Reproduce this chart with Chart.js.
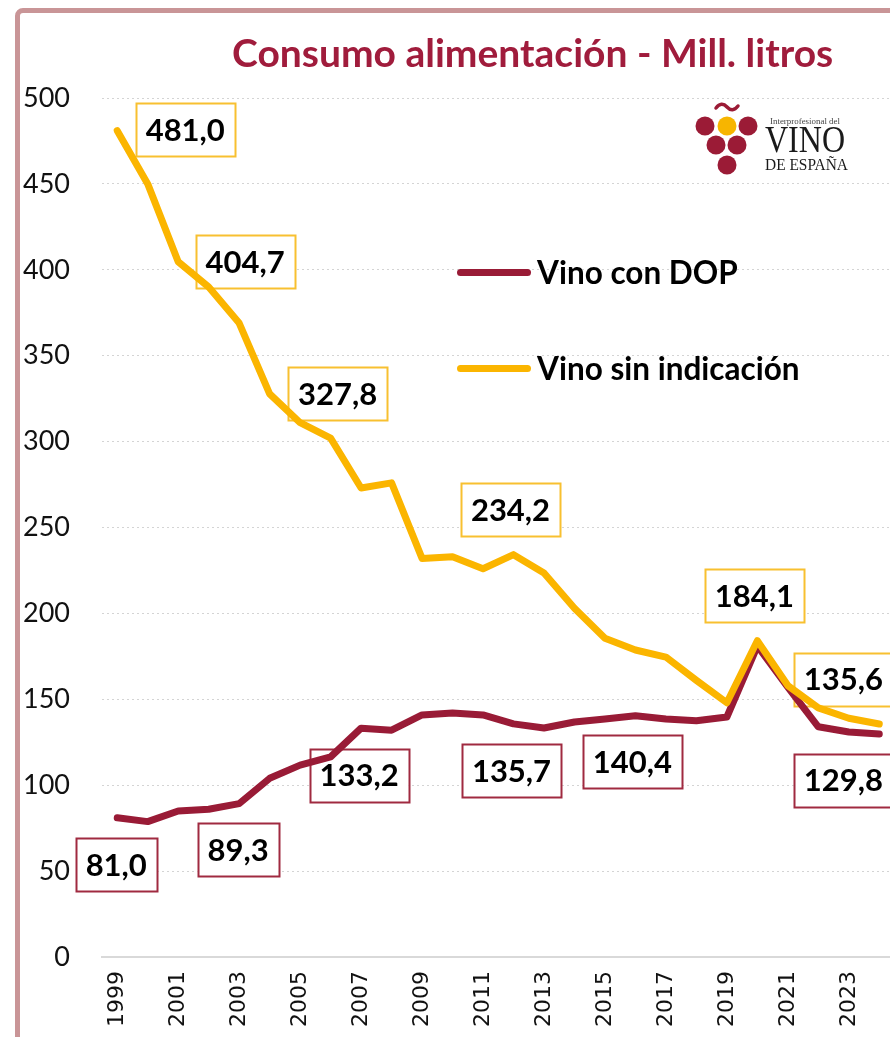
<!DOCTYPE html>
<html>
<head>
<meta charset="utf-8">
<script src="https://cdn.jsdelivr.net/npm/chart.js@4.4.1/dist/chart.umd.min.js"></script>
<style>
  html, body { margin: 0; padding: 0; background: #fff; width: 890px; height: 1037px; overflow: hidden; }
  #frame { position: absolute; left: 15px; top: 8px; width: 950px; height: 1100px; border: 5px solid #c99597; border-radius: 8px; box-sizing: border-box; }
  #wrap { position: absolute; left: 0; top: 0; width: 920px; height: 1037px; }
  #title { position: absolute; left: 232px; top: 28px; font: bold 39px Lato, sans-serif; color: #a01c3c; white-space: nowrap; line-height: 48px; }
  .leg { position: absolute; left: 457px; height: 40px; white-space: nowrap; }
  .leg i { position: absolute; left: 0; top: 17px; width: 74px; height: 7px; border-radius: 4px; }
  .leg span { position: absolute; left: 80px; top: 0; font: bold 31.5px Lato, sans-serif; color: #000; line-height: 40px; }
  #logo { position: absolute; left: 690px; top: 96px; }
</style>
</head>
<body>
<div id="frame"></div>
<div id="wrap"><canvas id="chart" width="920" height="1037"></canvas></div>
<div id="title">Consumo alimentación - Mill. litros</div>
<div class="leg" style="top:252px"><i style="background:#991b36"></i><span>Vino con DOP</span></div>
<div class="leg" style="top:348px"><i style="background:#fbb500"></i><span>Vino sin indicación</span></div>
<svg id="logo" width="170" height="90" viewBox="690 96 170 90">
  <path d="M716 108 q5.5 -7 11 -1 q5.5 6 11 -1" fill="none" stroke="#9b1b36" stroke-width="3.5" stroke-linecap="round"/>
  <circle cx="705" cy="126" r="9.5" fill="#9b1b36"/>
  <circle cx="727" cy="126" r="9.5" fill="#f7b500"/>
  <circle cx="748" cy="126" r="9.5" fill="#9b1b36"/>
  <circle cx="716" cy="145" r="9.5" fill="#9b1b36"/>
  <circle cx="737" cy="145" r="9.5" fill="#9b1b36"/>
  <circle cx="727" cy="165" r="9.5" fill="#9b1b36"/>
  <text x="770" y="124" font-family="Liberation Serif" font-size="8" fill="#444" textLength="70" lengthAdjust="spacingAndGlyphs">Interprofesional del</text>
  <text x="765" y="152" font-family="Liberation Serif" font-size="37" fill="#1a1a1a" textLength="80" lengthAdjust="spacingAndGlyphs">VINO</text>
  <text x="765" y="170" font-family="Liberation Serif" font-size="16" fill="#1a1a1a" textLength="83" lengthAdjust="spacingAndGlyphs">DE ESPAÑA</text>
</svg>
<script>
// Consumo de vino en alimentación, millones de litros
const years = ['1999', '2000', '2001', '2002', '2003', '2004', '2005', '2006', '2007', '2008', '2009', '2010', '2011',
  '2012', '2013', '2014', '2015', '2016', '2017', '2018', '2019', '2020', '2021', '2022', '2023', '2024'];
const dopValues = [81.0, 78.8, 85.0, 86.0, 89.3, 104.0, 111.7, 116.5, 133.2, 132.0, 140.9, 142.0, 140.9,
  135.7, 133.3, 136.8, 138.5, 140.4, 138.5, 137.5, 139.7, 181.0, 157.0, 134.0, 131.0, 129.8];
const sinValues = [481.0, 450.0, 404.7, 390.0, 369.0, 327.8, 311.0, 302.0, 273.0, 276.0, 232.0, 233.0, 226.0,
  234.2, 223.5, 203.0, 185.5, 178.7, 174.6, 161.0, 148.0, 184.1, 158.0, 145.0, 139.0, 135.6];
const yTicks = [0, 50, 100, 150, 200, 250, 300, 350, 400, 450, 500];

// indices of the points that carry a value box
const dopLabelIdx = [0, 4, 8, 13, 17, 25];
const sinLabelIdx = [0, 2, 5, 13, 21, 25];

const RED = '#991b36';
const YELLOW = '#fbb500';

// where each box sits relative to its point (layout only)
const boxOffsets = {
  sin: { 0: [68, -1], 2: [67, 0], 5: [68, 0], 13: [-3, -45], 21: [-3, -45], 25: [-36, -45] },
  dop: { 0: [-1, 47], 4: [-1, 46], 8: [-2, 47], 13: [-2, 47], 17: [-3, 46], 25: [-36, 46] }
};

const fmt = (v) => v.toFixed(1).replace('.', ',');

const valueBoxes = {
  id: 'valueBoxes',
  beforeDatasetsDraw(chart) {
    const { ctx } = chart;
    const groups = [
      { ds: 0, key: 'dop', idx: dopLabelIdx, values: dopValues, color: '#a02a40' },
      { ds: 1, key: 'sin', idx: sinLabelIdx, values: sinValues, color: '#f8c030' }
    ];
    ctx.save();
    ctx.font = 'bold 31px Lato, sans-serif';
    ctx.textAlign = 'center';
    ctx.textBaseline = 'middle';
    groups.forEach((g) => {
      const meta = chart.getDatasetMeta(g.ds);
      g.idx.forEach((i) => {
        const pt = meta.data[i];
        const [dx, dy] = boxOffsets[g.key][i];
        const cx = pt.x + dx;
        const cy = pt.y + dy;
        const txt = fmt(g.values[i]);
        const w = ctx.measureText(txt).width + 20;
        const h = 53;
        ctx.fillStyle = '#fff';
        ctx.fillRect(cx - w / 2, cy - h / 2, w, h);
        ctx.strokeStyle = g.color;
        ctx.lineWidth = 2;
        ctx.strokeRect(Math.round(cx - w / 2) + 0.5, Math.round(cy - h / 2) + 0.5, Math.round(w), h);
        ctx.fillStyle = '#000';
        ctx.fillText(txt, cx, cy + 1);
      });
    });
    ctx.restore();
  }
};

new Chart(document.getElementById('chart'), {
  type: 'line',
  data: {
    labels: years,
    datasets: [
      { label: 'Vino con DOP', data: dopValues, borderColor: RED, order: 1 },
      { label: 'Vino sin indicación', data: sinValues, borderColor: YELLOW, order: 0 }
    ]
  },
  options: {
    responsive: false,
    animation: false,
    layout: { padding: { left: 0, top: 98, right: 17, bottom: 0 } },
    elements: {
      line: { borderWidth: 7, tension: 0, borderCapStyle: 'round', borderJoinStyle: 'round', fill: false },
      point: { radius: 0, hoverRadius: 0 }
    },
    plugins: { legend: { display: false }, tooltip: { enabled: false }, title: { display: false } },
    scales: {
      x: {
        offset: true,
        grid: { display: false, drawTicks: false },
        border: { display: true, color: '#d9d9d9', width: 2 },
        ticks: {
          autoSkip: false,
          minRotation: 90,
          maxRotation: 90,
          padding: 14,
          color: '#111',
          font: { family: 'DejaVu Sans', size: 22 },
          callback: (v, i) => (i % 2 === 0 ? years[i] : '')
        },
        afterFit: (scale) => { scale.height = 80; }
      },
      y: {
        min: 0,
        max: 500,
        afterBuildTicks: (scale) => { scale.ticks = yTicks.map((v) => ({ value: v })); },
        grid: { color: '#d4d4d4', lineWidth: 1, drawTicks: false },
        border: { display: false, dash: [2, 3] },
        ticks: { padding: 32, color: '#111', font: { family: 'Lato', size: 27 } },
        afterFit: (scale) => { scale.width = 102; }
      }
    }
  },
  plugins: [valueBoxes]
});
</script>
</body>
</html>
